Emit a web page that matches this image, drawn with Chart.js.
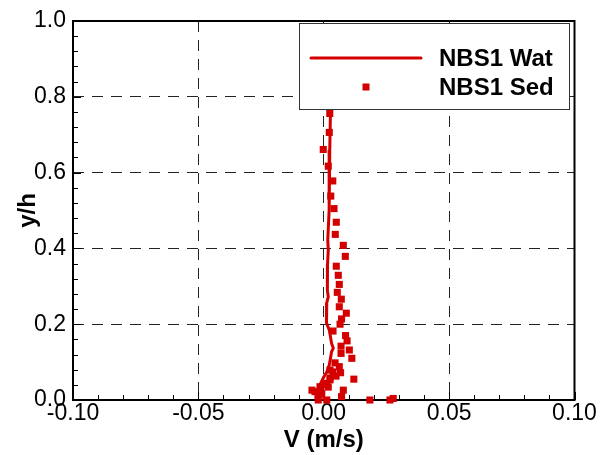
<!DOCTYPE html>
<html>
<head>
<meta charset="utf-8">
<script src="https://cdn.jsdelivr.net/npm/chart.js@4/dist/chart.umd.min.js"></script>
<style>
  html, body { margin: 0; padding: 0; background: #fff; }
  #wrap { width: 604px; height: 455px; }
</style>
</head>
<body>
<div id="wrap"><canvas id="c"></canvas></div>
<script>
// ---- data ----
const xTicks = [-0.10, -0.05, 0.00, 0.05, 0.10];
const yTicks = [0.0, 0.2, 0.4, 0.6, 0.8, 1.0];

// NBS1 Wat (line)
const watY = [0.800, 0.768, 0.660, 0.580, 0.501, 0.422, 0.396, 0.356, 0.317, 0.290, 0.272, 0.256,
              0.237, 0.219, 0.203, 0.185, 0.166, 0.150, 0.137, 0.127, 0.111, 0.092, 0.074,
              0.058, 0.040, 0.026, 0.013, 0.000];
const watV = [0.0028, 0.0027, 0.0024, 0.0022, 0.0021, 0.0016, 0.0018, 0.0015, 0.0013, 0.0016, 0.0018, 0.0012,
              0.0012, 0.0009, 0.0012, 0.0022, 0.0027, 0.0031, 0.0038, 0.0031, 0.0027, 0.0022, 0.0012,
              -0.0002, -0.0015, -0.0022, -0.0002, 0.0001];

// NBS1 Sed (squares)
const sedV = [0.0024, 0.0022, -0.0002, 0.0018, 0.0036, 0.0028, 0.0041, 0.0050, 0.0046, 0.0078,
              0.0086, 0.0050, 0.0058, 0.0062, 0.0054, 0.0070, 0.0062, 0.0090, 0.0071, 0.0065,
              0.0037, 0.0087, 0.0093, 0.0069, 0.0102, 0.0069, 0.0112, 0.0045, 0.0062, 0.0025,
              0.0067, 0.0120, 0.0025, 0.0012, 0.0018, 0.0078, -0.0015, -0.0035, -0.0008, 0.0071,
              0.0184, 0.0264, 0.0277, 0.0012, -0.0022, -0.0047, -0.0023, 0.0005, 0.0025, 0.0037,
              0.0049];
const sedY = [0.756, 0.706, 0.661, 0.617, 0.578, 0.538, 0.505, 0.469, 0.437, 0.408,
              0.379, 0.353, 0.329, 0.305, 0.284, 0.266, 0.246, 0.229, 0.214, 0.200,
              0.182, 0.170, 0.156, 0.142, 0.132, 0.123, 0.110, 0.098, 0.088, 0.079,
              0.072, 0.055, 0.053, 0.044, 0.034, 0.026, 0.035, 0.022, 0.018, 0.009,
              0.000, 0.000, 0.004, 0.000, 0.000, 0.026, 0.013, 0.040, 0.058, 0.074,
              0.063];

const RED = '#d40000';
const FONT = '"Liberation Sans", Arial, sans-serif';

// frame + inward ticks, drawn under the data
const framePlugin = {
  id: 'frame',
  beforeDatasetsDraw(chart) {
    const { ctx, chartArea: a } = chart;
    const xs = chart.scales.x, ys = chart.scales.y;
    ctx.save();
    ctx.strokeStyle = '#000';
    ctx.lineWidth = 1;
    ctx.beginPath();
    for (let i = -10; i <= 10; i++) {
      const px = Math.round(xs.getPixelForValue(i / 100)) + 0.5;
      const len = (i % 5 === 0) ? 8 : 5;
      ctx.moveTo(px, a.bottom);
      ctx.lineTo(px, a.bottom - len);
    }
    for (let i = 0; i <= 25; i++) {
      const py = Math.round(ys.getPixelForValue(i * 0.04)) + 0.5;
      const len = (i % 5 === 0) ? 8 : 5;
      ctx.moveTo(a.left, py);
      ctx.lineTo(a.left + len, py);
    }
    ctx.stroke();
    ctx.lineWidth = 2;
    ctx.strokeRect(a.left, a.top, a.right - a.left, a.bottom - a.top);
    ctx.restore();
  }
};

// boxed legend on top of the data
const legendPlugin = {
  id: 'boxLegend',
  afterDatasetsDraw(chart) {
    const { ctx } = chart;
    const bx = 299, by = 23, bw = 270, bh = 86;
    ctx.save();
    ctx.fillStyle = '#fff';
    ctx.fillRect(bx, by, bw, bh);
    ctx.strokeStyle = '#333';
    ctx.lineWidth = 1;
    ctx.strokeRect(bx + 0.5, by + 0.5, bw, bh);
    ctx.strokeStyle = RED;
    ctx.lineWidth = 3;
    ctx.lineCap = 'round';
    ctx.beginPath();
    ctx.moveTo(311, 58);
    ctx.lineTo(421, 58);
    ctx.stroke();
    ctx.fillStyle = RED;
    ctx.fillRect(362.5, 83.5, 7, 7);
    ctx.fillStyle = '#000';
    ctx.font = 'bold 24px ' + FONT;
    ctx.textBaseline = 'middle';
    ctx.textAlign = 'left';
    ctx.fillText('NBS1 Wat', 439, 59);
    ctx.fillText('NBS1 Sed', 439, 88);
    ctx.restore();
  }
};

const gridColor = (ctx) => {
  const v = ctx.tick ? ctx.tick.value : null;
  if (v === null) return 'transparent';
  const s = ctx.scale;
  return (Math.abs(v - s.min) < 1e-9 || Math.abs(v - s.max) < 1e-9) ? 'transparent' : '#222';
};

new Chart(document.getElementById('c'), {
  type: 'scatter',
  data: {
    datasets: [
      {
        label: 'NBS1 Wat',
        data: watV.map((v, i) => ({ x: v, y: watY[i] })),
        showLine: true,
        borderColor: RED,
        borderWidth: 3,
        pointRadius: 0,
        tension: 0,
        clip: false
      },
      {
        label: 'NBS1 Sed',
        data: sedV.map((v, i) => ({ x: v, y: sedY[i] })),
        pointStyle: 'rect',
        pointRadius: 5,
        borderWidth: 0,
        backgroundColor: RED,
        borderColor: RED,
        clip: false
      }
    ]
  },
  options: {
    responsive: true,
    maintainAspectRatio: false,
    animation: false,
    layout: { padding: { left: 0, right: 29.5, top: 21, bottom: 0 } },
    plugins: {
      legend: { display: false },
      tooltip: { enabled: false }
    },
    scales: {
      x: {
        type: 'linear',
        min: -0.10,
        max: 0.10,
        afterBuildTicks: s => { s.ticks = xTicks.map(v => ({ value: v })); },
        afterFit: s => { s.height = 55; },
        ticks: {
          padding: 0,
          color: '#000',
          font: { family: FONT, size: 23 },
          maxRotation: 0,
          autoSkip: false,
          callback: v => v.toFixed(2)
        },
        grid: { color: gridColor, lineWidth: 1, drawTicks: false },
        border: { display: false, dash: [11, 8] },
        title: {
          display: true,
          text: 'V (m/s)',
          color: '#000',
          font: { family: FONT, size: 24, weight: 'bold' },
          padding: { top: 4, bottom: 0 }
        }
      },
      y: {
        type: 'linear',
        min: 0,
        max: 1.0,
        afterBuildTicks: s => { s.ticks = yTicks.map(v => ({ value: v })); },
        afterFit: s => { s.width = 73; },
        ticks: {
          padding: 7,
          color: '#000',
          font: { family: FONT, size: 23 },
          autoSkip: false,
          callback: v => v.toFixed(1)
        },
        grid: { color: gridColor, lineWidth: 1, drawTicks: false },
        border: { display: false, dash: [11, 8] },
        title: {
          display: true,
          text: 'y/h',
          color: '#000',
          font: { family: FONT, size: 24, weight: 'bold' },
          padding: { top: 14, bottom: 0 }
        }
      }
    }
  },
  plugins: [framePlugin, legendPlugin]
});
</script>
</body>
</html>
